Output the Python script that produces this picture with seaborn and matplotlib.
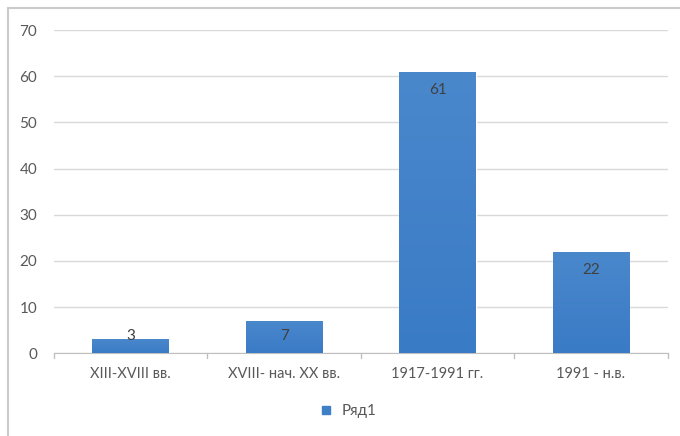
import numpy as np
import pandas as pd
import matplotlib
matplotlib.use('Agg')
import matplotlib.pyplot as plt
from matplotlib.patches import Rectangle
from matplotlib.lines import Line2D
import seaborn as sns

categories = ['XIII-XVIII вв.', 'XVIII- нач. XX вв.', '1917-1991 гг.', '1991 - н.в.']
values = [3, 7, 61, 22]
series_name = 'Ряд1'
yticks = [0, 10, 20, 30, 40, 50, 60, 70]

df = pd.DataFrame({'period': categories, 'count': values})

sns.set_style('white')
plt.rcParams['font.family'] = ['Lato', 'DejaVu Sans']

bar_color = '#3f7fc6'
text_color = '#595959'
grid_color = '#d9d9d9'

fig = plt.figure(figsize=(6.8, 4.36), dpi=100)
ax = fig.add_axes([0.0794, 0.19, 0.9026, 0.741])

sns.barplot(data=df, x='period', y='count', color=bar_color, width=0.5,
            saturation=1, ax=ax, zorder=3)

# soft vertical gradient on bars, like the office chart style
cmap = matplotlib.colors.LinearSegmentedColormap.from_list('g', ['#3a7bc6', '#4a88cc'])
for p in ax.patches:
    x0, w, h = p.get_x(), p.get_width(), p.get_height()
    grad = np.linspace(0, 1, 100).reshape(-1, 1)
    im = ax.imshow(grad, extent=[x0, x0 + w, 0, h], aspect='auto', cmap=cmap,
                   origin='lower', zorder=3)
    im.set_clip_path(p)

ax.set_ylim(0, 70)
ax.set_xlim(-0.5, 3.5)
ax.set_yticks(yticks)
ax.yaxis.grid(True, color=grid_color, linewidth=1, zorder=0)
ax.set_axisbelow(True)
for s in ['top', 'right', 'left']:
    ax.spines[s].set_visible(False)
ax.spines['bottom'].set_color('#bfbfbf')
ax.tick_params(axis='y', length=0, labelsize=11, labelcolor=text_color, pad=12)
ax.tick_params(axis='x', length=0, labelsize=10.5, labelcolor=text_color, pad=10)
ax.set_xlabel('')
ax.set_ylabel('')

# category separator ticks
for xb in np.arange(-0.5, len(categories), 1.0):
    ax.plot([xb, xb], [0, -1.0], color='#bfbfbf', lw=1, clip_on=False, zorder=2)

for i, v in enumerate(values):
    ax.text(i, max(v - 3.9, 3.7), str(v), ha='center', va='center',
            fontsize=11, color='#404040', zorder=5)

handle = Line2D([], [], marker='s', color=bar_color, linestyle='none', markersize=6)
fig.legend([handle], [series_name], loc='center', bbox_to_anchor=(0.505, 0.057),
           frameon=False, fontsize=11, handletextpad=0.0, labelcolor=text_color)

fig.patches.append(Rectangle((8 / 680, -0.1), 1.2, (1 - 8 / 436) + 0.1,
                             transform=fig.transFigure, fill=False,
                             edgecolor='#c8cbca', linewidth=1.5))

fig.savefig('out.png', dpi=100)
